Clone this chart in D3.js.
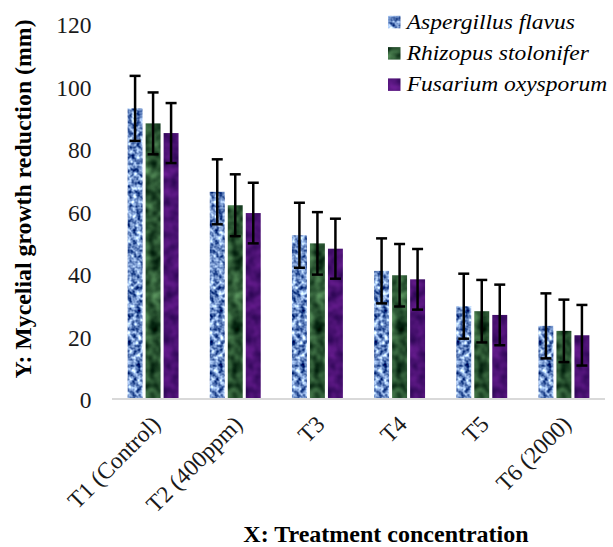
<!DOCTYPE html>
<html>
<head>
<meta charset="utf-8">
<script src="https://cdn.jsdelivr.net/npm/d3@7"></script>
<style>
  body { margin: 0; background: #fff; }
  svg text { font-family: "Liberation Serif", "DejaVu Serif", serif; }
</style>
</head>
<body>
<div id="chart"></div>
<script>
// data
var treatments = ["T1 (Control)", "T2 (400ppm)", "T3", "T4", "T5", "T6 (2000)"];
var fungi = ["Aspergillus flavus", "Rhizopus stolonifer", "Fusarium oxysporum"];
var aspergillus = [93, 66.3, 52.4, 41, 29.7, 23.4];
var rhizopus = [88.2, 62, 49.8, 39.6, 28.1, 21.8];
var fusarium = [85.1, 59.5, 48.1, 38.3, 26.9, 20.4];
var aspergillusErr = [10.4, 10.4, 10.4, 10.4, 10.4, 10.4];
var rhizopusErr = [9.9, 9.9, 10, 10, 10, 10];
var fusariumErr = [9.6, 9.7, 9.6, 9.7, 9.7, 9.7];
var yTicks = [0, 20, 40, 60, 80, 100, 120];

var width = 613, height = 547;
var seriesVals = [aspergillus, rhizopus, fusarium];
var seriesErr = [aspergillusErr, rhizopusErr, fusariumErr];
var serif = "'Liberation Serif', 'DejaVu Serif', serif";

// texture colours: dark / light for each fungus
var tex = [
  {dark: [45, 80, 150], light: [175, 205, 248], id: "texA"},
  {dark: [12, 45, 22], light: [75, 128, 80], id: "texR"},
  {dark: [55, 10, 95], light: [95, 25, 135], id: "texF"}
];

var svg = d3.select("#chart").append("svg")
    .attr("width", width)
    .attr("height", height);

var defs = svg.append("defs");
tex.forEach(function(t, i) {
    var f = defs.append("filter").attr("id", t.id)
        .attr("x", 0).attr("y", 0).attr("width", 1).attr("height", 1)
        .attr("color-interpolation-filters", "sRGB");
    f.append("feTurbulence").attr("type", "fractalNoise")
        .attr("baseFrequency", i == 0 ? 0.22 : 0.09)
        .attr("numOctaves", 2).attr("seed", 3 + i).attr("result", "n");
    var k = i == 0 ? 3.2 : 2.2;
    var rows = [0, 1, 2].map(function(c) {
        var d = t.dark[c] / 255, l = t.light[c] / 255, diff = l - d;
        // v = d + diff * (k*(R-0.5)+0.5)
        return [diff * k, 0, 0, 0, d + diff * (0.5 - k * 0.5)].join(" ");
    });
    f.append("feColorMatrix").attr("in", "n").attr("type", "matrix")
        .attr("values", rows.join(" ") + " 0 0 0 0 1").attr("result", "c");
    f.append("feComposite").attr("in", "c").attr("in2", "SourceGraphic").attr("operator", "in");
});

var x0 = d3.scaleBand()
    .domain(treatments)
    .range([112, 605])
    .paddingInner(0.38)
    .paddingOuter(0.19);

var x1 = d3.scaleBand()
    .domain(fungi)
    .range([0, x0.bandwidth()])
    .paddingInner(0.17);

var y = d3.scaleLinear()
    .domain([0, 120])
    .range([399, 24]);

// y tick labels (no axis line, no gridlines)
svg.append("g").selectAll("text")
    .data(yTicks)
    .enter().append("text")
    .attr("x", 91.5)
    .attr("y", function(d) { return y(d) + 1; })
    .attr("dy", "0.35em")
    .attr("text-anchor", "end")
    .attr("font-family", serif)
    .style("font-size", "23.5px")
    .style("fill", "#1a1a1a")
    .text(function(d) { return d; });

// bars
var groups = svg.append("g").selectAll("g")
    .data(treatments)
    .enter().append("g")
    .attr("transform", function(d) { return "translate(" + x0(d) + ",0)"; });

fungi.forEach(function(f, s) {
    groups.append("rect")
        .attr("x", x1(f))
        .attr("y", function(d, i) { return y(seriesVals[s][i]); })
        .attr("width", x1.bandwidth())
        .attr("height", function(d, i) { return y(0) - y(seriesVals[s][i]); })
        .attr("fill", "rgb(" + tex[s].dark.join(",") + ")")
        .attr("filter", "url(#" + tex[s].id + ")");
});

// x axis line
svg.append("line")
    .attr("x1", x0.range()[0]).attr("x2", x0.range()[1])
    .attr("y1", y(0)).attr("y2", y(0))
    .style("stroke", "#d9d9d9").style("stroke-width", 2);

// error bars
var capW = 5.5;
fungi.forEach(function(f, s) {
    var eb = groups.append("g");
    var cx = x1(f) + x1.bandwidth() / 2;
    eb.append("line")
        .attr("x1", cx).attr("x2", cx)
        .attr("y1", function(d, i) { return y(seriesVals[s][i] + seriesErr[s][i]); })
        .attr("y2", function(d, i) { return y(seriesVals[s][i] - seriesErr[s][i]); });
    eb.append("line")
        .attr("x1", cx - capW).attr("x2", cx + capW)
        .attr("y1", function(d, i) { return y(seriesVals[s][i] + seriesErr[s][i]); })
        .attr("y2", function(d, i) { return y(seriesVals[s][i] + seriesErr[s][i]); });
    eb.append("line")
        .attr("x1", cx - capW).attr("x2", cx + capW)
        .attr("y1", function(d, i) { return y(seriesVals[s][i] - seriesErr[s][i]); })
        .attr("y2", function(d, i) { return y(seriesVals[s][i] - seriesErr[s][i]); });
    eb.selectAll("line").style("stroke", "#000").style("stroke-width", 2.5);
});

// x tick labels, rotated
svg.append("g").selectAll("text")
    .data(treatments)
    .enter().append("text")
    .attr("transform", function(d) {
        var cx = x0(d) + x0.bandwidth() / 2 - 3;
        return "translate(" + cx + ",414) rotate(-45)";
    })
    .attr("text-anchor", "end")
    .attr("dy", "0.7em")
    .attr("font-family", serif)
    .style("font-size", "23.5px")
    .style("fill", "#1a1a1a")
    .text(function(d) { return d; });

// axis titles
svg.append("text")
    .attr("x", 386).attr("y", 542)
    .attr("text-anchor", "middle")
    .attr("font-family", serif)
    .style("font-size", "24px").style("font-weight", "bold")
    .text("X: Treatment concentration");

svg.append("text")
    .attr("transform", "translate(31,199) rotate(-90)")
    .attr("text-anchor", "middle")
    .attr("font-family", serif)
    .style("font-size", "23.8px").style("font-weight", "bold")
    .text("Y: Mycelial growth reduction (mm)");

// legend
var legend = svg.append("g").selectAll("g")
    .data(fungi)
    .enter().append("g")
    .attr("transform", function(d, i) { return "translate(388," + (22 + i * 31.3) + ")"; });

legend.append("rect")
    .attr("x", 0).attr("y", -6.2)
    .attr("width", 12.5).attr("height", 12.5)
    .attr("fill", function(d, i) { return "rgb(" + tex[i].dark.join(",") + ")"; })
    .attr("filter", function(d, i) { return "url(#" + tex[i].id + ")"; });

legend.append("text")
    .attr("transform", "translate(18.7,6.5) scale(1.12,1)")
    .attr("font-family", serif)
    .style("font-size", "21px").style("font-style", "italic")
    .text(function(d) { return d; });
</script>
</body>
</html>
